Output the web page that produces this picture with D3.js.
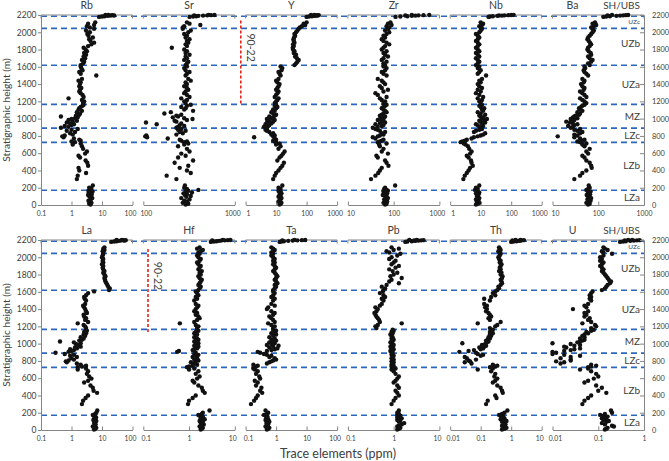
<!DOCTYPE html>
<html><head><meta charset="utf-8">
<script src="https://cdn.jsdelivr.net/npm/d3@7"></script>
<style>body{margin:0;background:#fff;} text{font-family:Lato,"Noto Sans",sans-serif;fill:#404040;}</style>
</head><body><svg id="c" width="669" height="461"></svg>
<script>
// sample heights (m), shared by every element panel
const heights = [
 5,15,25,40,50,65,80,95,105,115,125,135,145,155,165,175,185,200,225,
 300,340,370,400,430,455,490,515,550,570,595,620,650,680,700,712,
 728,735,745,755,770,785,795,805,815,830,845,860,870,880,
 895,905,915,925,935,945,955,965,975,985,995,1005,1015,1025,1035,1045,1060,1075,1090,1105,1120,1135,1150,1160,
 1180,1200,1215,1235,1250,1275,1295,1315,1335,1355,1375,1400,1420,1440,1460,1500,1520,1540,1560,1585,1605,
 1620,1640,1660,1680,1700,1720,1740,1760,1780,1800,1820,1840,1860,1880,1900,1920,1940,1960,1980,2000,2020,2040,
 2055,2070,2085,2100,2115,
 2178,2182,2186,2190,2193,2196,2198,2200,2202,2195];

const Rb = [4.2,3.8,4.5,4.0,3.6,4.3,4.8,3.9,4.4,3.5,4.6,4.1,3.7,4.9,3.6,4.2,4.5,3.8,5.0,
 1.5,1.6,3.0,1.8,1.7,3.5,3.3,2.9,1.9,1.7,2.8,3.2,2.4,2.2,1.1,2.0,
 1.3,1.0,2.0,1.8,1.2,0.55,0.5,0.6,1.1,0.9,1.3,0.7,1.0,1.6,
 0.45,0.8,0.6,1.0,1.2,0.9,0.7,1.1,1.5,0.8,1.0,1.3,1.6,0.45,1.4,1.8,1.9,1.5,2.2,1.7,1.8,2.0,2.3,2.5,
 2.4,2.6,2.2,0.8,2.5,2.3,2.0,1.8,1.9,2.1,1.8,1.9,2.0,1.7,2.2,6.5,2.0,1.8,2.3,2.1,2.0,
 2.0,2.4,2.6,2.2,2.8,2.5,3.0,2.6,3.2,2.9,2.5,3.5,4.5,5.5,4.2,3.8,5.0,3.6,3.3,4.0,3.0,5.5,
 4.0,3.2,5.5,3.5,6.0,
 8,10,12,15,18,20,22,16,13,25];
const Sr = [290,310,270,300,280,320,260,295,330,285,300,275,340,290,310,400,300,280,285,
 230,180,330,300,250,310,220,350,240,290,260,320,300,240,280,310,
 280,300,260,250,185,110,105,108,230,270,250,290,240,260,
 230,240,280,250,140,260,107,230,220,300,345,280,210,240,230,260,170,200,350,280,290,260,300,330,
 290,280,300,260,320,300,280,290,310,300,280,300,290,330,310,290,300,320,290,280,300,
 290,300,310,280,300,290,320,290,300,280,205,300,290,310,300,320,290,300,280,310,330,270,
 270,280,420,320,300,
 320,350,380,400,450,500,550,600,520,360];
const Y = [13,14,15,12,13,14,15,12,14,13,14,15,13,14,12,13,14,12,16,
 8,9,10,12,14,16,18,11,13,15,17,19,12,14,10,13,
 10,9,8,10,9,1.9,8,9,7,8,6,5,4.5,5,
 5,4,5.5,6,4.5,7,5,8,6,9,5,7,8,6,9,10,8,7,9,8,10,11,9,10,
 9,10,11,12,9,10,11,12,10,11,12,13,11,10,12,14,13,12,15,16,14,
 40,45,50,55,48,42,45,38,40,36,35,38,36,40,38,37,39,42,40,45,50,55,
 60,70,90,80,100,
 100,120,150,180,200,230,250,180,140,220];
const Zr = [65,70,60,72,68,62,75,66,70,58,64,72,68,60,75,70,62,65,108,
 32,40,46,50,55,77,70,65,45,42,75,55,60,50,48,70,
 45,50,55,60,40,35,45,50,60,55,65,50,45,40,
 35,45,55,60,40,50,65,55,60,45,50,60,55,65,50,55,60,70,65,60,55,60,65,70,
 60,65,55,50,70,45,40,60,75,55,50,65,60,55,45,70,60,55,65,70,60,
 65,60,70,55,60,75,65,60,70,55,60,65,80,70,60,55,65,60,70,80,65,75,
 80,70,90,75,85,
 110,140,200,250,300,350,450,600,250,180];
const Nb = [7,8,9,7.5,8.5,7,9,8,7.5,8,8.5,7,9,8,7.5,6.5,8,7,9,
 2.7,3.0,3.5,4.0,4.5,5.5,5.0,4.8,4.0,3.5,4.5,5.0,4.2,3.8,3.2,2.8,
 2.2,2.5,3.0,3.5,5,6,8,10,12,14,6,7,9,11,
 9,10,12,8,7,11,14,10,9,13,16,11,12,10,9,14,10,8,12,11,13,10,9,11,
 10,9,11,8,12,9,7,10,8,11,9,8,10,9,11,15,8,9,10,8,9,
 7,8,9,8,7,9,8,7,9,8,7,8,9,8,7,8,9,8,7,9,10,11,
 10,9,11,12,10,
 18,20,25,35,50,60,80,100,120,40];
const Ba = [60,65,55,62,68,58,70,60,64,56,66,60,62,68,58,55,60,65,62,
 30,40,45,55,72,70,65,55,50,45,60,55,65,50,45,55,
 40,35,45,50,40,30,13,35,30,40,45,35,30,40,
 25,28,22,30,35,28,24,20,26,30,25,35,28,30,32,38,40,35,45,40,38,42,45,50,
 55,50,45,40,55,50,45,40,48,50,45,42,48,50,45,60,55,50,48,52,50,
 65,60,70,75,65,60,70,68,62,58,60,65,70,66,62,58,60,65,70,75,80,75,
 70,80,90,75,85,
 130,150,180,250,300,350,400,450,200,160];
const La = [5.5,6,6.5,5,5.8,6.2,5.5,6,6.5,5.2,5.8,6,6.4,5.5,5.8,5,6,6.5,7,
 2.2,2.4,2.9,3.5,6.9,5.3,5.0,4.2,2.6,3.5,4.5,3.8,3.2,3.5,1.6,3.0,
 1.6,2.2,3.0,2.0,1.5,0.7,0.65,0.8,1.2,1.0,1.5,0.9,1.2,0.6,
 0.3,0.8,1.0,1.2,0.9,1.5,1.3,2.0,1.8,1.6,1.4,2.0,1.2,0.42,1.8,2.2,2.5,2.0,2.8,2.5,3.0,2.6,3.2,3.0,
 3.0,2.8,2.5,1.6,3.5,2.8,3.0,2.6,2.5,3.2,3.0,2.8,2.6,2.4,2.8,3.0,2.7,2.6,3.0,3.5,5.5,
 17,18,16,15,14,13,12.5,12,13,12,11,12,11,10.5,11,10,11,10.5,11,10,10.5,11,
 11,10.5,12,11,12,
 20,25,30,35,40,50,60,45,30,55];
const Hf = [1.8,1.9,2.0,1.7,1.9,2.1,1.8,2.0,1.7,1.9,2.2,1.8,1.9,2.0,1.7,1.6,1.9,2.0,2.8,
 0.95,1.0,1.2,1.4,2.2,2.0,1.9,1.6,1.3,1.2,1.5,1.7,1.4,1.6,1.0,1.3,
 0.9,1.0,1.2,1.5,1.3,1.1,1.4,1.6,1.3,1.5,1.2,1.4,1.6,1.3,
 1.4,0.55,0.6,1.2,1.3,1.5,1.4,1.6,1.3,1.5,1.4,1.6,1.5,1.3,1.4,1.6,1.5,1.3,1.4,1.5,1.3,1.4,1.6,1.5,
 1.5,1.6,1.4,0.63,1.3,1.5,1.7,1.6,1.4,1.5,1.3,1.4,1.5,1.6,1.4,1.3,1.5,1.4,1.6,1.5,1.4,
 1.6,1.7,1.8,1.6,1.7,1.8,1.9,1.7,1.6,1.8,1.7,1.9,1.6,1.7,1.8,1.6,1.5,1.7,1.8,1.6,1.5,1.7,
 1.6,1.8,2.0,1.5,1.7,
 3.0,3.5,4.0,4.5,5.0,6.0,7.0,8.0,5.5,3.2];
const Ta = [0.5,0.55,0.6,0.45,0.5,0.55,0.48,0.6,0.5,0.45,0.55,0.5,0.48,0.52,0.46,0.4,0.5,0.55,0.45,
 0.15,0.19,0.22,0.25,0.35,0.3,0.33,0.22,0.25,0.2,0.3,0.28,0.22,0.25,0.2,0.18,
 0.2,0.22,0.25,0.18,0.5,0.6,0.7,0.8,1.0,0.9,0.6,0.7,0.5,0.4,
 0.3,0.25,0.5,0.7,0.9,1.1,0.6,0.8,1.2,0.5,0.7,0.9,0.6,0.8,1.0,0.7,0.9,0.6,0.8,1.0,0.7,0.9,1.0,0.8,
 0.8,0.9,0.7,0.55,0.9,0.8,0.7,0.6,0.8,0.9,0.7,0.5,0.55,0.9,0.7,0.8,0.9,0.7,0.8,0.9,0.8,
 0.8,0.9,1.0,0.9,1.1,1.0,0.9,1.0,1.1,1.0,0.9,0.8,0.9,1.0,0.9,0.8,0.9,0.8,0.9,0.8,0.7,0.8,
 0.7,0.8,0.9,0.8,0.7,
 1.3,1.5,1.8,2.5,3.5,5,7,9,4,1.6];
const Pb = [1.2,1.3,1.4,1.2,1.3,1.5,1.7,1.3,1.4,1.2,1.3,1.5,1.2,1.3,1.4,1.2,1.3,1.2,1.3,
 0.9,1.0,1.1,1.3,1.2,1.1,1.3,1.2,1.0,1.1,1.2,1.3,1.1,1.0,0.9,1.1,
 0.95,0.9,1.0,0.9,0.95,1.0,0.9,0.95,1.0,0.9,0.95,1.0,0.9,0.95,
 0.9,0.95,0.85,0.9,1.0,0.9,0.95,0.85,0.9,1.0,0.95,0.9,0.85,0.9,0.95,1.0,0.9,0.95,0.9,0.85,0.95,0.9,1.0,0.95,
 0.42,0.4,0.45,1.5,0.5,0.48,0.45,0.42,0.4,0.38,0.42,0.45,0.4,0.5,0.55,0.6,0.55,0.65,0.6,0.5,0.58,
 0.6,0.65,0.55,0.7,1.3,0.8,0.9,1.5,0.85,1.0,1.2,0.95,0.8,1.1,1.3,0.9,1.0,1.1,0.8,0.9,1.2,1.4,
 0.8,0.7,1.0,1.3,0.9,
 1.8,2.0,2.5,3.0,3.5,4.0,4.5,3.2,2.2,2.8];
const Th = [0.5,0.6,0.7,0.55,0.5,0.65,0.6,0.5,0.7,0.55,0.45,0.6,0.5,0.55,0.45,0.4,0.5,0.6,0.75,
 0.15,0.17,0.33,0.3,0.53,0.5,0.45,0.35,0.25,0.3,0.35,0.28,0.3,0.22,0.08,0.25,
 0.2,0.3,0.35,0.25,0.05,0.03,0.045,0.04,0.07,0.035,0.03,0.1,0.12,0.08,
 0.07,0.02,0.04,0.06,0.1,0.12,0.09,0.13,0.15,0.11,0.14,0.025,0.16,0.18,0.15,0.17,0.2,0.18,0.22,0.2,0.25,0.2,0.22,0.25,
 0.2,0.3,0.35,0.08,0.45,0.2,0.18,0.22,0.2,0.18,0.15,0.16,0.14,0.16,0.13,0.2,0.13,0.22,0.3,0.25,0.3,
 0.35,0.4,0.38,0.45,0.5,0.48,0.45,0.5,0.52,0.45,0.48,0.4,0.45,0.42,0.45,0.48,0.42,0.45,0.4,0.38,0.42,0.45,
 0.4,0.38,0.45,0.42,0.4,
 1.0,1.2,1.5,1.8,2.0,2.2,2.6,2.0,1.4,1.1];
const U = [0.14,0.15,0.16,0.22,0.2,0.14,0.12,0.15,0.17,0.13,0.15,0.12,0.14,0.16,0.13,0.11,0.14,0.2,0.19,
 0.045,0.05,0.06,0.07,0.15,0.1,0.12,0.09,0.05,0.06,0.08,0.1,0.09,0.07,0.04,0.06,
 0.06,0.07,0.09,0.07,0.015,0.018,0.012,0.025,0.025,0.015,0.025,0.04,0.018,0.01,
 0.012,0.01,0.018,0.025,0.03,0.04,0.02,0.018,0.03,0.04,0.025,0.01,0.035,0.04,0.045,0.05,0.04,0.05,0.045,0.05,0.06,0.055,0.07,0.08,
 0.07,0.09,0.085,0.045,0.07,0.06,0.065,0.05,0.055,0.05,0.06,0.028,0.055,0.05,0.06,0.07,0.065,0.07,0.065,0.07,0.075,
 0.12,0.14,0.15,0.16,0.18,0.19,0.17,0.16,0.15,0.14,0.13,0.12,0.13,0.12,0.11,0.12,0.13,0.11,0.12,0.11,0.13,0.2,
 0.13,0.12,0.16,0.14,0.13,
 0.3,0.35,0.4,0.5,0.6,0.7,0.8,0.55,0.45,0.38];

const topElements = ["Rb","Sr","Y","Zr","Nb","Ba"];
const bottomElements = ["La","Hf","Ta","Pb","Th","U"];
const values = {Rb,Sr,Y,Zr,Nb,Ba,La,Hf,Ta,Pb,Th,U};
const domains = {Rb:[0.1,100],Sr:[100,1000],Y:[1,1000],Zr:[10,1000],Nb:[1,1000],Ba:[10,1000],
                 La:[0.1,100],Hf:[0.1,10],Ta:[0.1,100],Pb:[0.1,10],Th:[0.01,10],U:[0.01,1]};
const tickLabels = {Rb:["0.1","1","10","100"],Sr:["100","1000"],Y:["1","10","100","1000"],
  Zr:["10","100","1000"],Nb:["1","10","100","1000"],Ba:["10","100","1000"],
  La:["0.1","1","10","100"],Hf:["0.1","1","10"],Ta:["0.1","1","10","100"],
  Pb:["0.1","1","10"],Th:["0.01","0.1","1","10"],U:["0.01","0.1","1"]};
const heightTicks = [0,200,400,600,800,1000,1200,1400,1600,1800,2000,2200];
const boundaries = [170,725,890,1165,1618,2045,2185];
const zoneNames = ["LZa","LZb","LZc","MZ","UZa","UZb"];
const zoneLabelHeights = [90,455,810,1022,1398,1872];

const svg = d3.select("#c");
const left = 41, right = 644, pw = 91.5, step = (right - left - pw) / 5;
const rows = [
  {els: topElements, yTop: 15, yBot: 205, red: {panel: 2, dx: -4.8, from: 2135, to: 1158}},
  {els: bottomElements, yTop: 240, yBot: 430, red: {panel: 1, dx: 4.7, from: 2096, to: 1123}}
];
const axisCol = "#858585";
const plain = d => String(d);

rows.forEach(row => {
  const y = d3.scaleLinear().domain([0,2200]).range([row.yBot,row.yTop]);
  const g = svg.append("g");
  // zone boundaries
  g.selectAll("line.b").data(boundaries).join("line")
    .attr("x1",left).attr("x2",right).attr("y1",d=>y(d)).attr("y2",d=>y(d))
    .attr("stroke","#2f66bd").attr("stroke-width",1.6).attr("stroke-dasharray","6,4");

  row.els.forEach((el,i) => {
    const x0 = left + i*step, x1 = x0 + pw;
    const [d0,d1] = domains[el];
    const x = d3.scaleLog().domain([d0,d1]).range([x0,x1]);
    const labs = tickLabels[el];
    const tv = labs.map(Number);
    const ax = g.append("g").attr("transform",`translate(0,${row.yBot})`)
      .call(d3.axisBottom(x).tickValues(tv).tickFormat((d,k)=>labs[k]).tickSizeInner(-3.5).tickSizeOuter(0).tickPadding(6));
    ax.select(".domain").attr("stroke",axisCol);
    ax.selectAll(".tick line").attr("stroke",axisCol);
    ax.selectAll(".tick text").attr("font-size",6.8).attr("font-family","Lato").attr("fill","#404040")
      .attr("dx",(d,k)=> (k===0 && i>0) ? 2.5 : (k===labs.length-1 && i<5) ? -2.5 : 0);
    // top frame line with end ticks
    g.append("path").attr("d",`M${x0},${row.yTop+3.5}V${row.yTop}H${x1}V${row.yTop+3.5}`)
      .attr("fill","none").attr("stroke",axisCol);
    // title
    g.append("text").attr("x", i===5 ? x0+20 : (x0+x1)/2).attr("y",row.yTop-6).attr("text-anchor","middle")
      .attr("font-size",10.5).text(el);
    // dots
    const pts = heights.map((h,k)=>[h, values[el][k]]).filter(p=>p[1]!=null);
    g.selectAll(null).data(pts).join("circle")
      .attr("cx",d=>x(d[1])).attr("cy",d=>y(d[0])).attr("r",2.2).attr("fill","#111");
  });

  // left axis
  const la = g.append("g").attr("transform",`translate(${left},0)`)
    .call(d3.axisLeft(y).tickValues(heightTicks).tickFormat(plain).tickSizeInner(3).tickSizeOuter(0).tickPadding(1.5));
  la.select(".domain").attr("stroke",axisCol);
  la.selectAll(".tick line").attr("stroke",axisCol);
  la.selectAll(".tick text").attr("font-size",8.5).attr("font-family","Lato").attr("fill","#404040");
  // right axis
  const ra = g.append("g").attr("transform",`translate(${right},0)`)
    .call(d3.axisRight(y).tickValues(heightTicks).tickFormat(plain).tickSizeInner(-4).tickSizeOuter(0).tickPadding(8));
  ra.select(".domain").attr("stroke",axisCol);
  ra.selectAll(".tick line").attr("stroke",axisCol);
  ra.selectAll(".tick text").attr("font-size",7.4).attr("font-family","Lato").attr("fill","#404040");

  // zone labels
  g.selectAll("text.z").data(zoneNames).join("text")
    .attr("x",right-4).attr("y",(d,k)=>y(zoneLabelHeights[k])+3.5).attr("text-anchor","end")
    .attr("font-size",10).text(d=>d);
  g.append("text").attr("x",right-4).attr("y",y(2130)+2.5).attr("text-anchor","end")
    .attr("font-size",6.5).text("UZc");
  g.append("text").attr("x",right-4).attr("y",row.yTop-6).attr("text-anchor","end")
    .attr("font-size",10).text("SH/UBS");

  // axis title
  g.append("text").attr("transform",`translate(10,${(row.yTop+row.yBot)/2}) rotate(-90)`)
    .attr("text-anchor","middle").attr("font-size",10.2).text("Stratigraphic height (m)");

  // red 90-22 marker
  const rx = left + row.red.panel*step + row.red.dx;
  g.append("line").attr("x1",rx).attr("x2",rx).attr("y1",y(row.red.from)).attr("y2",y(row.red.to))
    .attr("stroke","#e3241b").attr("stroke-width",1.6).attr("stroke-dasharray","3,2");
  g.append("text").attr("transform",`translate(${rx+6},${y(row.red.from)+27}) rotate(90)`)
    .attr("text-anchor","middle").attr("font-size",10.5).text("90-22");
});

svg.append("text").attr("x",338).attr("y",458).attr("text-anchor","middle")
  .attr("font-size",12.5).text("Trace elements (ppm)");
</script></body></html>
